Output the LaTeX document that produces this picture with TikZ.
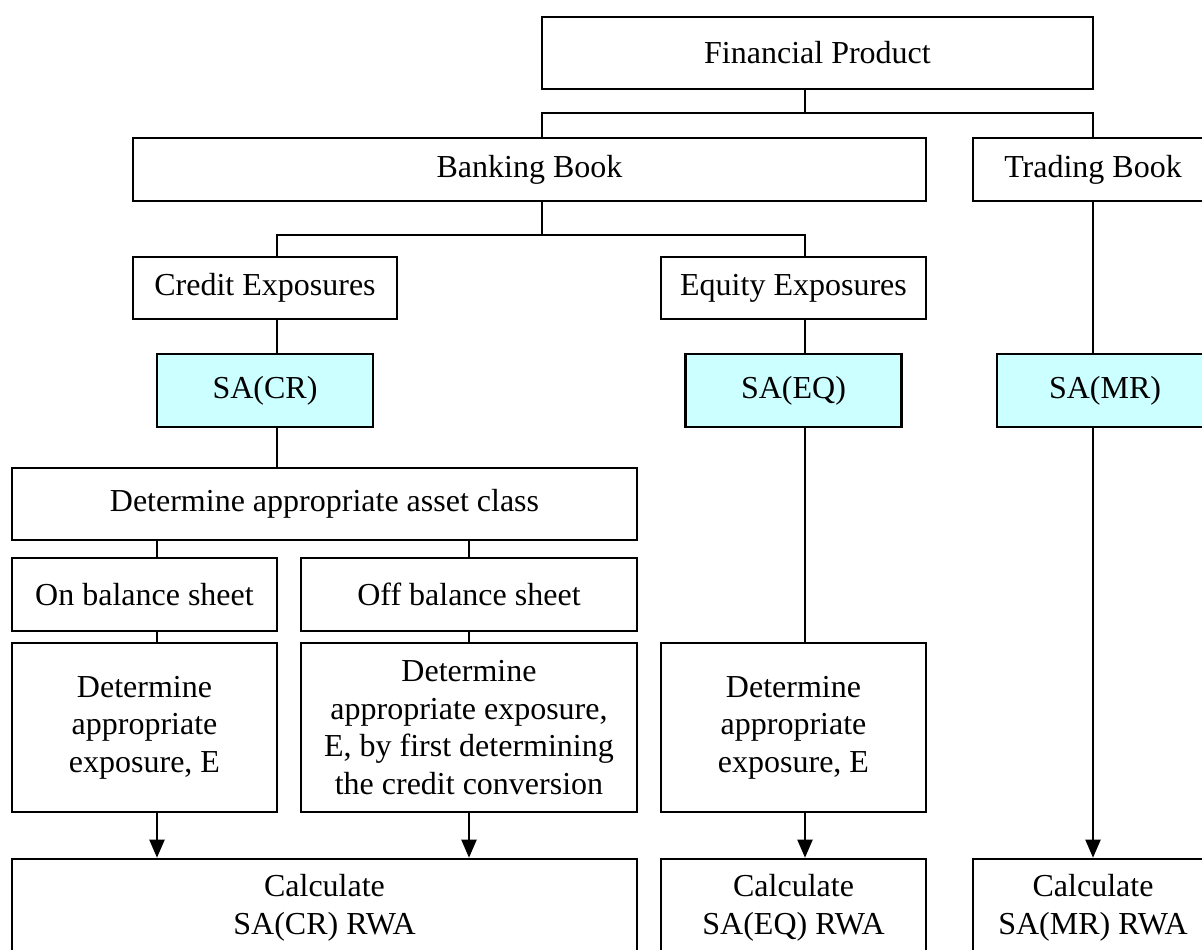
\documentclass[tikz,border=0pt]{standalone}
\usepackage{fontspec}
\setmainfont{Liberation Serif}
\usetikzlibrary{arrows.meta}
\definecolor{celeste}{HTML}{CCFFFF}
\begin{document}
\begin{tikzpicture}[x=1pt,y=-1pt,
    caja/.style={draw, line width=2.6pt, inner sep=0pt, align=center,
        font=\fontsize{32}{37.5}\selectfont},
    sa/.style={caja, fill=celeste, minimum width=216pt, minimum height=73pt},
    linea/.style={line width=2pt},
    flecha/.style={line width=2pt, -{Triangle[length=18pt,width=15pt]}}]
    \useasboundingbox (0,0) rectangle (1202,950);

    % producto y libros
    \node[caja, minimum width=551pt, minimum height=72pt] (fp) at (817.5,53) {Financial Product};
    \node[caja, minimum width=793pt, minimum height=63pt] (bb) at (529.5,169.5) {Banking Book};
    \node[caja, minimum width=240pt, minimum height=63pt] (tb) at (1093,169.5) {Trading Book};

    % exposiciones
    \node[caja, minimum width=264pt, minimum height=62pt] (ce) at (265,288) {Credit Exposures};
    \node[caja, minimum width=265pt, minimum height=62pt] (ee) at (793.5,288) {Equity Exposures};

    % enfoques
    \node[sa] (sacr) at (265,390.5) {SA(CR)};
    \node[sa] (saeq) at (793.5,390.5) {SA(EQ)};
    \node[sa] (samr) at (1105,390.5) {SA(MR)};

    % credito
    \node[caja, minimum width=625pt, minimum height=72pt] (dac) at (324.5,504) {Determine appropriate asset class};
    \node[caja, minimum width=265pt, minimum height=73pt] (onb) at (144.5,594.5) {On balance sheet};
    \node[caja, minimum width=336pt, minimum height=73pt] (offb) at (469,594.5) {Off balance sheet};
    \node[caja, minimum width=265pt, minimum height=169pt] (ond) at (144.5,727.5) {Determine\\appropriate\\exposure, E};
    \node[caja, minimum width=336pt, minimum height=169pt] (offd) at (469,727.5)
        {Determine\\appropriate exposure,\\E, by first determining\\the credit conversion};
    \node[caja, minimum width=265pt, minimum height=169pt] (eqd) at (793.5,727.5) {Determine\\appropriate\\exposure, E};

    % calculos
    \node[caja, minimum width=625pt, minimum height=98pt] (ccr) at (324.5,908) {Calculate\\SA(CR) RWA};
    \node[caja, minimum width=265pt, minimum height=98pt] (ceq) at (793.5,908) {Calculate\\SA(EQ) RWA};
    \node[caja, minimum width=240pt, minimum height=98pt] (cmr) at (1093,908) {Calculate\\SA(MR) RWA};

    % ramas
    \coordinate (j1) at (805,113);
    \coordinate (j2) at (542,235);
    \draw[linea] ([xshift=-12.5pt]fp.south) -- (j1);
    \draw[linea] ([xshift=12.5pt]bb.north) |- (j1) -| (tb.north);
    \draw[linea] ([xshift=12.5pt]bb.south) -- (j2);
    \draw[linea] ([xshift=12pt]ce.north) |- (j2) -| ([xshift=11.5pt]ee.north);
    \draw[linea] ([xshift=12pt]ce.south) -- ([xshift=12pt]ce.south |- sacr.north);
    \draw[linea] ([xshift=11.5pt]ee.south) -- ([xshift=11.5pt]ee.south |- saeq.north);
    \draw[linea] (tb.south) -- (tb.south |- samr.north);
    \draw[linea] ([xshift=12pt]sacr.south) -- ([xshift=12pt]sacr.south |- dac.north);
    \draw[linea] ([xshift=12.5pt]onb.north |- dac.south) -- ([xshift=12.5pt]onb.north);
    \draw[linea] (offb.north |- dac.south) -- (offb.north);
    \draw[linea] ([xshift=12.5pt]onb.south) -- ([xshift=12.5pt]ond.north);
    \draw[linea] (offb.south) -- (offd.north);
    \draw[linea] ([xshift=11.5pt]saeq.south) -- ([xshift=11.5pt]eqd.north);

    % flechas
    \draw[flecha] ([xshift=12.5pt]ond.south) -- ([xshift=12.5pt]ond.south |- ccr.north);
    \draw[flecha] (offd.south) -- (offd.south |- ccr.north);
    \draw[flecha] ([xshift=11.5pt]eqd.south) -- ([xshift=11.5pt]ceq.north);
    \draw[flecha] ([xshift=-12pt]samr.south) -- (cmr.north);

\end{tikzpicture}
\end{document}
